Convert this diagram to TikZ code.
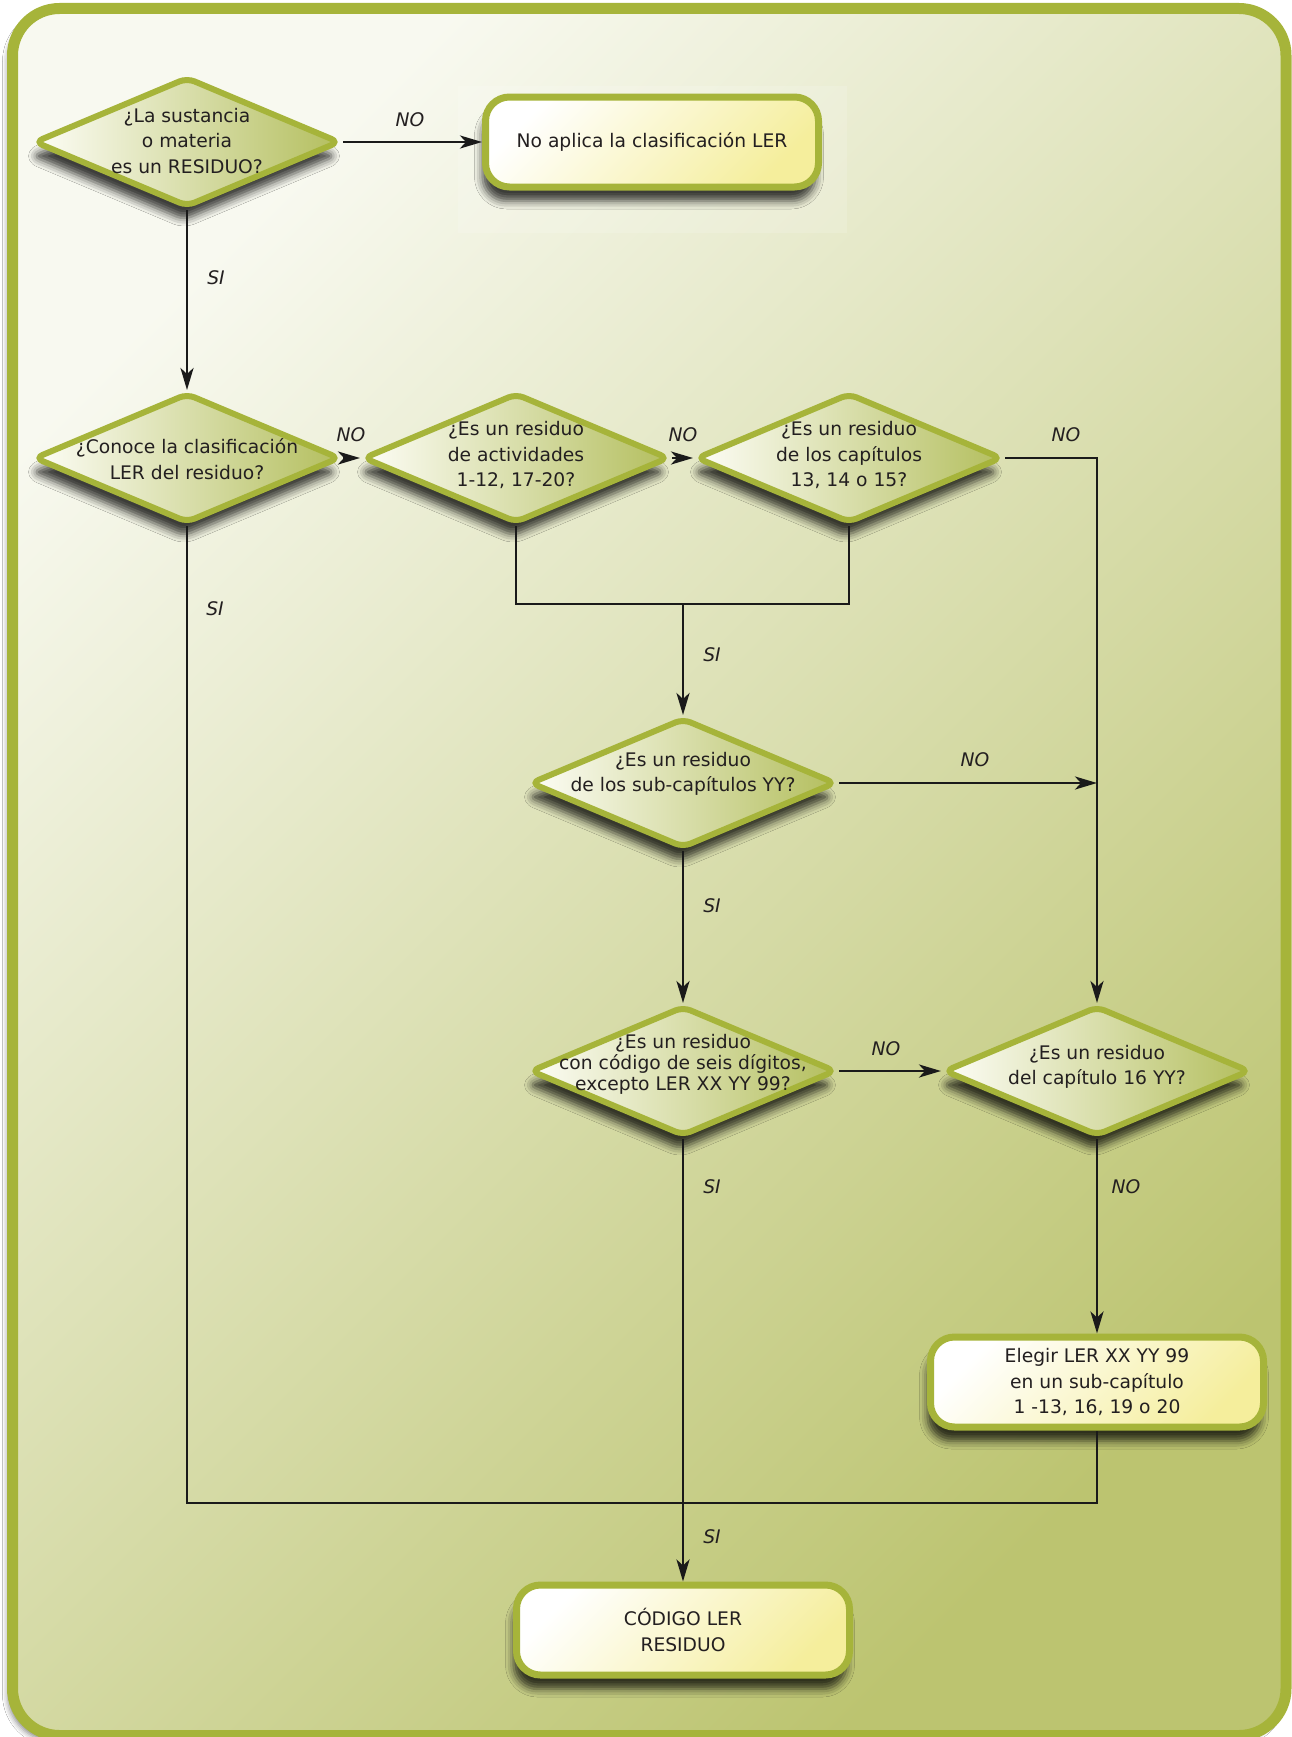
\documentclass[tikz,border=0pt]{standalone}
\usepackage{fontspec}
\setmainfont{DejaVu Sans}
\usetikzlibrary{shapes.geometric,arrows.meta,shadows.blur}

\definecolor{ink}{HTML}{231F20}
\definecolor{wire}{HTML}{1A1A1A}
\definecolor{rim}{HTML}{A6B43A}
\definecolor{dleft}{HTML}{FDFDF6}
\definecolor{dright}{HTML}{B4BF5F}
\definecolor{bylw}{HTML}{F5EE9C}
\definecolor{bgtop}{HTML}{F8F9F0}
\definecolor{bgbot}{HTML}{BCC470}

\begin{document}
\begin{tikzpicture}[x=1pt,y=-1pt,
  txt/.style={text=ink, font=\fontsize{18.7}{25.5}\selectfont, align=center},
  tighttxt/.style={text=ink, font=\fontsize{18.7}{21}\selectfont, align=center},
  lbl/.style={text=ink, font=\fontsize{18.7}{22}\selectfont\itshape},
  nodeshadow/.style={blur shadow={shadow xshift=-3pt, shadow yshift=-14pt,
      shadow blur radius=8pt, shadow opacity=75}},
  decision/.style={diamond, draw=rim, line width=6pt, rounded corners=8pt,
      minimum width=306pt, minimum height=130pt, inner sep=0pt,
      left color=dleft, right color=dright, nodeshadow},
  stepbox/.style={rectangle, draw=rim, line width=7pt, rounded corners=24pt,
      minimum width=333pt, minimum height=90pt, inner sep=0pt,
      top color=white, bottom color=bylw, shading angle=45, nodeshadow, txt},
  link/.style={line width=2.8pt, draw=wire},
  flow/.style={link, -{Stealth[length=22pt,width=13pt,inset=6pt]}},
]
% page and framed panel
\useasboundingbox (0,0) rectangle (1292,1737);
\fill[white] (0,0) rectangle (1292,1737);
\draw[rim, line width=11pt, rounded corners=47pt,
      top color=bgtop, bottom color=bgbot, shading angle=45,
      blur shadow={shadow xshift=-5pt, shadow yshift=-6pt,
                   shadow blur radius=5pt, shadow opacity=45}]
  (12.5,8.5) rectangle (1286,1735.5);
% lighter panel behind the first outcome
\fill[white, opacity=0.15] (458,86) rectangle (847,233);

% decisions and steps
\node[decision, label={[txt, yshift=1pt]center:{¿La sustancia\\o materia\\es un RESIDUO?}}] (d1) at (187,142) {};
\node[stepbox] (noap) at (652,142) {No aplica la clasificación LER};

\node[decision, label={[txt, yshift=-1pt]center:{¿Conoce la clasificación\\LER del residuo?}}] (d2) at (187,458) {};
\node[decision, label={[txt, yshift=3pt]center:{¿Es un residuo\\de actividades\\1-12, 17-20?}}] (d3) at (516,458) {};
\node[decision, label={[txt, yshift=3pt]center:{¿Es un residuo\\de los capítulos\\13, 14 o 15?}}] (d4) at (849,458) {};

\node[decision, label={[txt, yshift=9pt]center:{¿Es un residuo\\de los sub-capítulos YY?}}] (d5) at (683,783) {};
\node[decision, label={[tighttxt, yshift=7pt]center:{¿Es un residuo\\con código de seis dígitos,\\excepto LER XX YY 99?}}] (d6) at (683,1071) {};
\node[decision, label={[txt, yshift=4pt]center:{¿Es un residuo\\del capítulo 16 YY?}}] (d7) at (1097,1071) {};

\node[stepbox] (elegir) at (1097,1382) {Elegir LER XX YY 99\\en un sub-capítulo\\1 -13, 16, 19 o 20};
\node[stepbox] (codigo) at (683,1630) {CÓDIGO LER\\RESIDUO};

% junction points of the connectors
\coordinate (join) at (683,604);
\coordinate (merge) at (683,1503);

% connectors
\draw[flow] (d1.east) -- (noap.west);
\draw[flow] (d1.south) -- (d2.north);
\draw[flow] (d2.east) -- (d3.west);
\draw[flow] (d3.east) -- (d4.west);
\draw[flow] (d4.east) -| (d7.north);
\draw[link] (d3.south) |- (join) -| (d4.south);
\draw[flow] (join) -- (d5.north);
\draw[flow] (d5.east) -- (d5.east -| d7.north);
\draw[flow] (d5.south) -- (d6.north);
\draw[flow] (d6.east) -- (d7.west);
\draw[flow] (d6.south) -- (codigo.north);
\draw[flow] (d7.south) -- (elegir.north);
\draw[link] (d2.south) |- (merge) -| (elegir.south);

% branch labels
\node[lbl] (nA) at (410,120) {NO};
\node[lbl] (sA) at (216,278) {SI};
\node[lbl] (nB) at (351,435) {NO};
\node[lbl] (nC) at (683,435) {NO};
\node[lbl] (nD) at (1066,435) {NO};
\node[lbl] (sB) at (215,609) {SI};
\node[lbl] (sC) at (712,655) {SI};
\node[lbl] (nE) at (975,760) {NO};
\node[lbl] (sD) at (712,906) {SI};
\node[lbl] (nF) at (886,1049) {NO};
\node[lbl] (sE) at (712,1187) {SI};
\node[lbl] (nG) at (1126,1187) {NO};
\node[lbl] (sF) at (712,1537) {SI};
\end{tikzpicture}
\end{document}
